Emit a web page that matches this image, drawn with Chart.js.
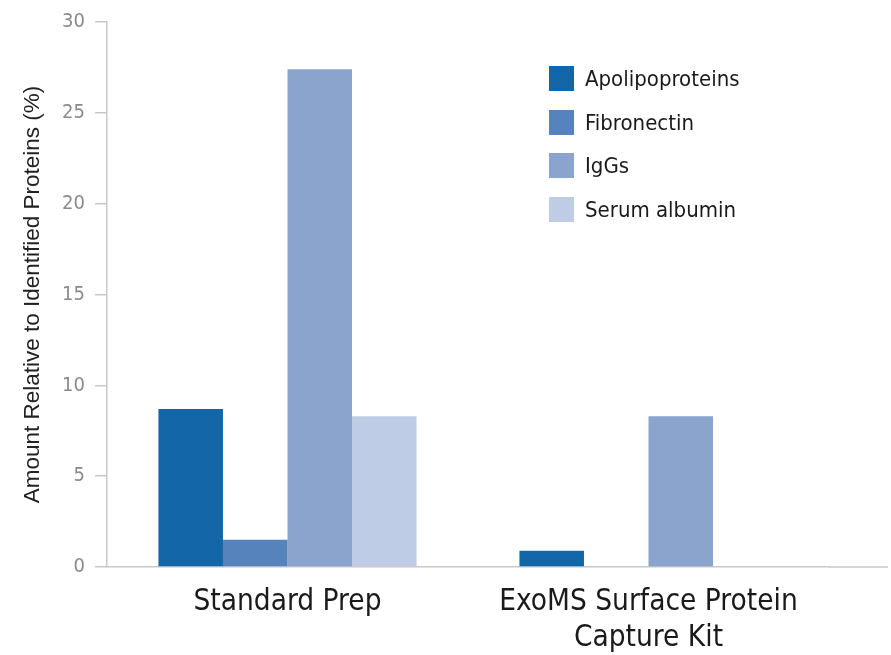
<!DOCTYPE html>
<html>
<head>
<meta charset="utf-8">
<script src="https://cdn.jsdelivr.net/npm/chart.js@4"></script>
<style>
  html, body { margin: 0; padding: 0; background: #fff; }
  #wrap { position: relative; width: 891px; height: 655px; }
  #legend { position: absolute; left: 549px; top: 66px; font-family: 'Liberation Sans Narrow', 'DejaVu Sans Condensed', sans-serif; font-size: 22px; color: #1a1a1a; }
  #legend div { display: flex; align-items: center; height: 25px; margin-bottom: 18.5px; }
  #legend span.box { display: inline-block; width: 25px; height: 25px; margin-right: 11px; }
</style>
</head>
<body>
<div id="wrap">
  <canvas id="proteinChart" width="891" height="655"></canvas>
  <div id="legend"></div>
</div>
<script>
// Categories and series
const categories = ['Standard Prep', ['ExoMS Surface Protein', 'Capture Kit']];
const seriesNames = ['Apolipoproteins', 'Fibronectin', 'IgGs', 'Serum albumin'];
const apolipoproteins = [8.7, 0.9];
const fibronectin = [1.5, 0];
const iggs = [27.4, 8.3];
const serumAlbumin = [8.3, 0];
const yTicks = [0, 5, 10, 15, 20, 25, 30];

const colors = ['#1366a7', '#5683bc', '#8aa4cd', '#bfcce5'];
const condensed = "'Liberation Sans Narrow', 'DejaVu Sans Condensed', sans-serif";

const seriesValues = [apolipoproteins, fibronectin, iggs, serumAlbumin];

// Extend the x axis line past the plot area, like the original
const axisExtend = {
  id: 'axisExtend',
  afterDraw(chart) {
    const { ctx, chartArea } = chart;
    ctx.save();
    ctx.strokeStyle = '#c8c8c8';
    ctx.lineWidth = 1.5;
    ctx.beginPath();
    ctx.moveTo(chartArea.right, chartArea.bottom);
    ctx.lineTo(chart.width - 3, chartArea.bottom);
    ctx.stroke();
    ctx.restore();
  }
};

new Chart(document.getElementById('proteinChart'), {
  type: 'bar',
  data: {
    labels: categories,
    datasets: seriesNames.map((name, i) => ({
      label: name,
      data: seriesValues[i],
      backgroundColor: colors[i],
      borderWidth: 0,
      barPercentage: 1,
      categoryPercentage: 0.715
    }))
  },
  options: {
    responsive: false,
    animation: false,
    layout: { padding: { top: 20, left: 0, right: 62, bottom: 0 } },
    plugins: {
      legend: { display: false },
      tooltip: { enabled: false }
    },
    scales: {
      x: {
        afterFit(scale) { scale.height = 88; },
        grid: { display: false, drawTicks: false },
        border: { display: true, color: '#c8c8c8', width: 1.5 },
        ticks: {
          color: '#1a1a1a',
          padding: 18,
          font: { family: condensed, size: 29.5, lineHeight: 1.2 }
        }
      },
      y: {
        min: 0,
        max: 30,
        afterFit(scale) { scale.width = 107; },
        afterBuildTicks(scale) { scale.ticks = yTicks.map(v => ({ value: v })); },
        grid: { drawOnChartArea: false, drawTicks: true, tickLength: 12, color: '#c8c8c8', lineWidth: 1.5 },
        border: { display: true, color: '#c8c8c8', width: 1.5 },
        ticks: {
          color: '#8a8a8a',
          padding: 10,
          font: { family: condensed, size: 20 }
        },
        title: {
          display: true,
          text: 'Amount Relative to Identified Proteins (%)',
          color: '#222',
          font: { family: "'Liberation Sans', Arial, sans-serif", size: 22.5 },
          padding: { top: 19, bottom: 0 }
        }
      }
    }
  },
  plugins: [axisExtend]
});

// HTML legend
const legend = document.getElementById('legend');
seriesNames.forEach((name, i) => {
  const row = document.createElement('div');
  const box = document.createElement('span');
  box.className = 'box';
  box.style.background = colors[i];
  row.appendChild(box);
  row.appendChild(document.createTextNode(name));
  legend.appendChild(row);
});
</script>
</body>
</html>
